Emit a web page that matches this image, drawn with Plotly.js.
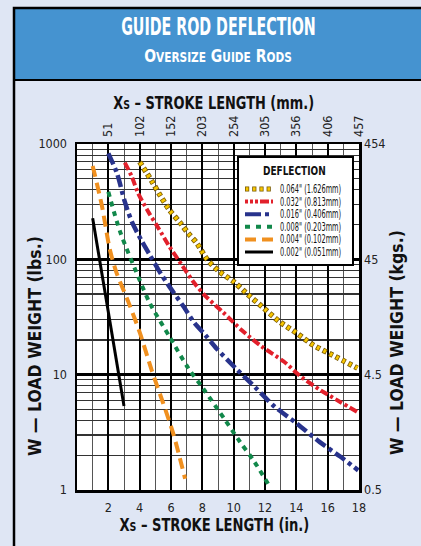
<!DOCTYPE html>
<html>
<head>
<meta charset="utf-8">
<script src="https://cdn.plot.ly/plotly-3.0.1.min.js"></script>
<style>
html,body{margin:0;padding:0;background:#dfe6f4;}
#chart{width:421px;height:546px;}
/* condense the title texts (no condensed web font is available) */
.annotation text.annotation-text{transform-box:fill-box;transform-origin:50% 50%;}
.annotation[data-index="0"] text.annotation-text{transform:scaleX(0.66);}
.annotation[data-index="1"] text.annotation-text{transform:scaleX(0.84);}
.annotation[data-index="2"] text.annotation-text{transform:scaleX(0.8);}
.annotation[data-index="3"] text.annotation-text{transform:scaleX(0.81);}
.annotation[data-index="4"] text.annotation-text{transform:scaleX(1);}
.annotation[data-index="5"] text.annotation-text{transform:scaleX(1);}
.annotation[data-index="6"] text.annotation-text{transform:scaleX(0.8);}
.annotation[data-index="7"] text.annotation-text,
.annotation[data-index="8"] text.annotation-text,
.annotation[data-index="9"] text.annotation-text,
.annotation[data-index="10"] text.annotation-text,
.annotation[data-index="11"] text.annotation-text,
.annotation[data-index="12"] text.annotation-text{transform-origin:0% 50%;transform:scaleX(0.64);}
</style>
</head>
<body>
<div id="chart"></div>
<script>
// ---- data ----
const xTicks = [2, 4, 6, 8, 10, 12, 14, 16, 18];
const mmLabels = ['51', '102', '152', '203', '254', '305', '356', '406', '457'];
const yTicks = [1, 10, 100, 1000];
const lbsLabels = ['1', '10', '100', '1000'];
const kgLabels = ['0.5', '4.5', '45', '454'];

const names = ['0.064" (1.626mm)', '0.032" (0.813mm)', '0.016" (0.406mm)', '0.008" (0.203mm)', '0.004" (0.102mm)', '0.002" (0.051mm)'];

const x064 = [4.0, 4.8, 5.3, 5.9, 6.6, 7.1, 7.65, 8.3, 9.1, 10.0, 10.8, 11.8, 12.9, 14.0, 15.1, 16.3, 17.9];
const y064 = [700, 470, 360, 268, 206, 168, 138, 100, 78, 64, 51, 39, 29, 23, 18, 14.8, 11.4];

const x032 = [3.05, 3.5, 3.9, 4.55, 5.2, 5.9, 6.7, 7.5, 8.2, 9.3, 10.5, 11.8, 13.2, 14.3, 15.5, 16.8, 17.9];
const y032 = [690, 520, 374, 259, 186, 129, 89, 62, 48, 35, 24.4, 17.5, 13, 9.6, 7.4, 5.8, 4.75];

const x016 = [2.0, 2.55, 3.05, 3.5, 4.1, 4.65, 5.2, 5.9, 6.8, 7.5, 8.2, 8.9, 10.2, 11.4, 12.6, 14.0, 15.5, 16.8, 17.95];
const y016 = [830, 558, 316, 212, 147, 109, 81, 58, 39, 28, 22, 16.9, 11.1, 7.7, 5.3, 3.8, 2.6, 1.95, 1.48];

const x008 = [2.0, 2.75, 4.0, 4.65, 5.9, 7.1, 8.05, 9.45, 10.4, 11.25, 12.2];
const y008 = [385, 174, 66, 41.6, 21.4, 11.4, 7.6, 4.05, 2.62, 1.82, 1.13];

const x004 = [1.0, 1.58, 2.1, 2.53, 3.27, 4.02, 4.76, 5.5, 6.14, 6.9];
const y004 = [645, 296, 121, 76, 43, 22.9, 11, 5.65, 3.1, 1.25];

const x002 = [1.0, 3.0];
const y002 = [227, 5.35];

// ---- styling ----
const FONT = '"DejaVu Sans Condensed", "Liberation Sans Narrow", "Liberation Sans", sans-serif';
const C = {yellow: '#f7c600', yedge: '#7a5a00', red: '#e2202b', blue: '#28338c', green: '#11884a', orange: '#f0901f', black: '#000000'};

// plot area in pixels: x 77..359, y 144..490
const L = 77, R = 359, T = 144, B = 490;
const px = v => (v - L) / (R - L);
const py = v => (B - v) / (B - T);

function tr(x, y, color, width, dash, extra) {
  return Object.assign({
    x: x, y: y, type: 'scatter', mode: 'lines',
    line: {color: color, width: width, dash: dash, shape: 'spline', smoothing: 0.8},
    hoverinfo: 'skip', showlegend: false
  }, extra || {});
}

const dashes = {
  yOut: '4.2px,3px', yIn: '0px,0.8px,2.6px,3.8px',
  red: '8px,3px,3px,3px',
  blue: '12px,4px,4px,4px',
  green: '5px,5px',
  orange: '11px,6px'
};

const data = [
  tr(x064, y064, C.yedge, 5.5, dashes.yOut),
  tr(x064, y064, C.yellow, 4, dashes.yIn),
  tr(x032, y032, C.red, 4, dashes.red),
  tr(x016, y016, C.blue, 4.5, dashes.blue),
  tr(x008, y008, C.green, 4, dashes.green),
  tr(x004, y004, C.orange, 4, dashes.orange),
  tr(x002, y002, C.black, 3, 'solid', {xaxis: 'x2', yaxis: 'y2'})
];

// ---- shapes: frame, title band, legend ----
const shapes = [
  {type: 'rect', xref: 'paper', yref: 'paper', layer: 'below', x0: px(14), x1: px(440), y0: py(80), y1: py(8), fillcolor: '#4593d0', line: {color: '#000', width: 2}},
  {type: 'rect', xref: 'paper', yref: 'paper', layer: 'below', x0: px(14), x1: px(440), y0: py(580), y1: py(8), fillcolor: 'rgba(0,0,0,0)', line: {color: '#000', width: 2.5}},
  {type: 'rect', xref: 'paper', yref: 'paper', x0: px(238), x1: px(353), y0: py(265), y1: py(157), fillcolor: '#ffffff', line: {color: '#000', width: 2}}
];

const annotations = [];
function ann(text, xpx, ypx, size, opts) {
  annotations.push(Object.assign({
    text: text, xref: 'paper', yref: 'paper', x: px(xpx), y: py(ypx),
    xanchor: 'center', yanchor: 'middle', showarrow: false,
    font: {family: FONT, size: size, color: '#111'}
  }, opts || {}));
}

ann('<b>GUIDE ROD DEFLECTION</b>', 218, 27, 24, {font: {family: FONT, size: 24, color: '#fff'}});
ann('<b>O<span style="font-size:14px">VERSIZE</span> G<span style="font-size:14px">UIDE</span> R<span style="font-size:14px">ODS</span></b>', 218, 56, 18.5, {font: {family: FONT, size: 18.5, color: '#fff'}});
ann('<b>X<span style="font-size:13px">S</span> – STROKE LENGTH (mm.)</b>', 213, 103, 18);
ann('<b>X<span style="font-size:13px">S</span> – STROKE LENGTH (in.)</b>', 214, 524, 18);
ann('<b>W — LOAD WEIGHT (lbs.)</b>', 35, 346, 17.5, {textangle: -90});
ann('<b>W — LOAD WEIGHT (kgs.)</b>', 397, 343, 17.5, {textangle: -90});
ann('<b>DEFLECTION</b>', 294, 170, 12.5);

// legend entries
const legendStyles = [
  [{c: C.yedge, w: 5, d: dashes.yOut}, {c: C.yellow, w: 3.6, d: dashes.yIn}],
  [{c: C.red, w: 4, d: '3px,2px,3px,2px,3px,2px,9px,2px'}],
  [{c: C.blue, w: 4, d: '16px,4px,4px,4px'}],
  [{c: C.green, w: 4, d: '5px,6px'}],
  [{c: C.orange, w: 4, d: '11px,6px'}],
  [{c: C.black, w: 3, d: 'solid'}]
];
names.forEach((nm, i) => {
  const yy = 189 + i * 12.6;
  legendStyles[i].forEach(s => {
    shapes.push({type: 'line', xref: 'paper', yref: 'paper', x0: px(245), x1: px(273), y0: py(yy), y1: py(yy), line: {color: s.c, width: s.w, dash: s.d}});
  });
  ann(nm, 278, yy, 11.5, {xanchor: 'left'});
});

const tickFont = {family: FONT, size: 12.5, color: '#222'};

const layout = {
  width: 421, height: 546,
  margin: {l: L, r: 421 - R, t: T, b: 546 - B, pad: 0},
  paper_bgcolor: '#dfe6f4',
  plot_bgcolor: '#ffffff',
  showlegend: false,
  xaxis: {
    range: [0, 18], tickvals: xTicks, ticktext: xTicks.map(String), ticks: '',
    showgrid: true, gridcolor: '#000', gridwidth: 2, zeroline: false,
    minor: {dtick: 1, tick0: 0, showgrid: true, gridcolor: '#555', gridwidth: 1},
    showline: true, mirror: true, linecolor: '#000', linewidth: 2.5,
    tickfont: tickFont, ticklabelstandoff: 4, fixedrange: true
  },
  yaxis: {
    type: 'log', range: [0, 3], tickvals: yTicks, ticktext: lbsLabels, ticks: '',
    showgrid: true, gridcolor: '#000', gridwidth: 2.5, zeroline: false,
    minor: {dtick: 'D1', showgrid: true, gridcolor: '#333', gridwidth: 1.1},
    showline: true, mirror: true, linecolor: '#000', linewidth: 2.5,
    tickfont: tickFont, ticklabelstandoff: 5, fixedrange: true
  },
  xaxis2: {
    overlaying: 'x', side: 'top', anchor: 'y2', range: [0, 18], tickvals: xTicks, ticktext: mmLabels,
    tickangle: -90, ticks: '', showgrid: false, zeroline: false, showline: false,
    tickfont: tickFont, ticklabelstandoff: 6, fixedrange: true
  },
  yaxis2: {
    overlaying: 'y', side: 'right', anchor: 'x2', type: 'log', range: [0, 3], tickvals: yTicks, ticktext: kgLabels,
    ticks: '', showgrid: false, zeroline: false, showline: false,
    tickfont: tickFont, ticklabelstandoff: 4, fixedrange: true
  },
  shapes: shapes,
  annotations: annotations
};

Plotly.newPlot('chart', data, layout, {displayModeBar: false, staticPlot: true});
</script>
</body>
</html>
